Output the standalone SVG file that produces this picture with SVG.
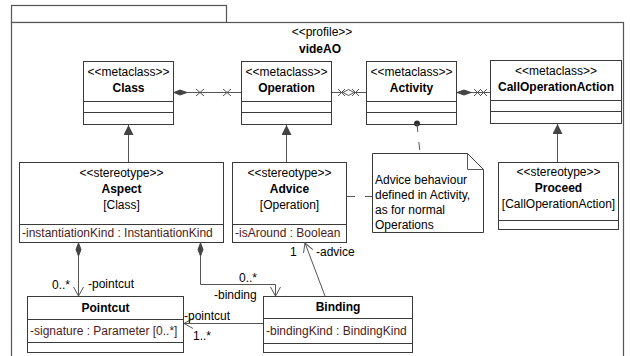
<svg xmlns="http://www.w3.org/2000/svg" width="630" height="356" viewBox="0 0 630 356">
  <style>
    .box { fill: #ffffff; stroke: #3a3a3a; stroke-width: 1; }
    .sep { stroke: #3a3a3a; stroke-width: 1; }
    .pkg { fill: #ffffff; stroke: #555555; stroke-width: 1.2; }
    .t { font-family: "Liberation Sans", Arial, sans-serif; font-size: 12px; fill: #000000; }
    .c { text-anchor: middle; }
    .b { font-weight: bold; }
    .attr { fill: #4a1c1c; }
    .ln { fill: none; stroke: #555555; stroke-width: 1; }
    .dash { fill: none; stroke: #555555; stroke-width: 1; stroke-dasharray: 8 10; }
    .fillh { fill: #444444; stroke: #444444; stroke-width: 1; }
    .hollow { fill: #ffffff; stroke: #555555; stroke-width: 1; }
  </style>
  <defs>
    <marker id="gen" markerWidth="12" markerHeight="12" refX="10" refY="5" orient="auto" markerUnits="userSpaceOnUse">
      <path d="M0,0 L10,5 L0,10 Z" fill="#444444"/>
    </marker>
    <marker id="open" markerWidth="12" markerHeight="12" refX="9" refY="5" orient="auto" markerUnits="userSpaceOnUse">
      <path d="M0,0 L9,5 L0,10" fill="none" stroke="#555555" stroke-width="1"/>
    </marker>
  </defs>

  <!-- profile package frame -->
  <g id="package">
    <rect class="pkg" x="11.5" y="5.5" width="215" height="17"/>
    <rect class="pkg" x="11.5" y="22.5" width="612" height="340"/>
    <text class="t c" x="322" y="36">&lt;&lt;profile&gt;&gt;</text>
    <text class="t c b" x="320" y="53">videAO</text>
  </g>

  <!-- metaclasses -->
  <g id="class">
    <rect class="box" x="83.5" y="61.5" width="90" height="63"/>
    <line class="sep" x1="83.5" y1="101.5" x2="173.5" y2="101.5"/>
    <line class="sep" x1="83.5" y1="112.5" x2="173.5" y2="112.5"/>
    <text class="t c" x="128.5" y="76">&lt;&lt;metaclass&gt;&gt;</text>
    <text class="t c b" x="128.5" y="92">Class</text>
  </g>
  <g id="operation">
    <rect class="box" x="241.5" y="61.5" width="90" height="63"/>
    <line class="sep" x1="241.5" y1="101.5" x2="331.5" y2="101.5"/>
    <line class="sep" x1="241.5" y1="112.5" x2="331.5" y2="112.5"/>
    <text class="t c" x="286.5" y="76">&lt;&lt;metaclass&gt;&gt;</text>
    <text class="t c b" x="286.5" y="92">Operation</text>
  </g>
  <g id="activity">
    <rect class="box" x="366.5" y="61.5" width="90" height="63"/>
    <line class="sep" x1="366.5" y1="101.5" x2="456.5" y2="101.5"/>
    <line class="sep" x1="366.5" y1="112.5" x2="456.5" y2="112.5"/>
    <text class="t c" x="411.5" y="76">&lt;&lt;metaclass&gt;&gt;</text>
    <text class="t c b" x="411.5" y="92">Activity</text>
  </g>
  <g id="calloperationaction">
    <rect class="box" x="490.5" y="60.5" width="131" height="63"/>
    <line class="sep" x1="490.5" y1="100.5" x2="621.5" y2="100.5"/>
    <line class="sep" x1="490.5" y1="111.5" x2="621.5" y2="111.5"/>
    <text class="t c" x="556" y="75">&lt;&lt;metaclass&gt;&gt;</text>
    <text class="t c b" x="556" y="91">CallOperationAction</text>
  </g>

  <!-- stereotypes -->
  <g id="aspect">
    <rect class="box" x="19.5" y="162.5" width="204" height="80"/>
    <line class="sep" x1="19.5" y1="224.5" x2="223.5" y2="224.5"/>
    <text class="t c" x="121.5" y="177">&lt;&lt;stereotype&gt;&gt;</text>
    <text class="t c b" x="121.5" y="193">Aspect</text>
    <text class="t c" x="121.5" y="209">[Class]</text>
    <text class="t attr" x="22" y="237">-instantiationKind : InstantiationKind</text>
  </g>
  <g id="advice">
    <rect class="box" x="232.5" y="162.5" width="114" height="80"/>
    <line class="sep" x1="232.5" y1="224.5" x2="346.5" y2="224.5"/>
    <text class="t c" x="289.5" y="177">&lt;&lt;stereotype&gt;&gt;</text>
    <text class="t c b" x="289.5" y="193">Advice</text>
    <text class="t c" x="289.5" y="209">[Operation]</text>
    <text class="t attr" x="235" y="237">-isAround : Boolean</text>
  </g>
  <g id="proceed">
    <rect class="box" x="498.5" y="162.5" width="120" height="67"/>
    <line class="sep" x1="498.5" y1="220.5" x2="618.5" y2="220.5"/>
    <text class="t c" x="558.5" y="176">&lt;&lt;stereotype&gt;&gt;</text>
    <text class="t c b" x="558.5" y="192">Proceed</text>
    <text class="t c" x="558.5" y="208">[CallOperationAction]</text>
  </g>

  <!-- classes -->
  <g id="pointcut">
    <rect class="box" x="27.5" y="296.5" width="156" height="56"/>
    <line class="sep" x1="27.5" y1="319.5" x2="183.5" y2="319.5"/>
    <line class="sep" x1="27.5" y1="342.5" x2="183.5" y2="342.5"/>
    <text class="t c b" x="105.5" y="312">Pointcut</text>
    <text class="t attr" x="30" y="335">-signature : Parameter [0..*]</text>
  </g>
  <g id="binding">
    <rect class="box" x="263.5" y="296.5" width="149" height="56"/>
    <line class="sep" x1="263.5" y1="318.5" x2="412.5" y2="318.5"/>
    <line class="sep" x1="263.5" y1="343.5" x2="412.5" y2="343.5"/>
    <text class="t c b" x="338" y="311">Binding</text>
    <text class="t attr" x="266" y="335">-bindingKind : BindingKind</text>
  </g>

  <!-- note -->
  <g id="note">
    <path class="box" d="M372.5,153.5 H467.5 L483.5,169.5 V232.5 H372.5 Z"/>
    <path class="ln" d="M467.5,153.5 V169.5 H483.5"/>
    <text class="t" x="375" y="184">Advice behaviour</text>
    <text class="t" x="375" y="199">defined in Activity,</text>
    <text class="t" x="375" y="214">as for normal</text>
    <text class="t" x="375" y="229">Operations</text>
  </g>

  <g id="connectors">
    <!-- extensions -->
    <line class="ln" x1="128.5" y1="162" x2="128.5" y2="125" marker-end="url(#gen)"/>
    <line class="ln" x1="286.5" y1="162" x2="286.5" y2="125" marker-end="url(#gen)"/>
    <line class="ln" x1="557.5" y1="162" x2="557.5" y2="124" marker-end="url(#gen)"/>

    <!-- Class - Operation -->
    <line class="ln" x1="174" y1="92.5" x2="241" y2="92.5"/>
    <path class="fillh" d="M174,92.5 L180,90 L187,92.5 L180,95 Z"/>
    <path class="ln" d="M196,89 L204,96 M196,96 L204,89"/>
    <path class="ln" d="M223,89 L231,96 M223,96 L231,89"/>

    <!-- Operation - Activity -->
    <line class="ln" x1="332" y1="92.5" x2="366" y2="92.5"/>
    <path class="ln" d="M338,89 L345,96 M338,96 L345,89"/>
    <path class="hollow" d="M343,92.5 L348.5,89.5 L354,92.5 L348.5,95.5 Z"/>
    <path class="ln" d="M352,89 L359,96 M352,96 L359,89"/>

    <!-- Activity - CallOperationAction -->
    <line class="ln" x1="457" y1="92.5" x2="490" y2="92.5"/>
    <path class="fillh" d="M457,92.5 L464,90 L471,92.5 L464,95 Z"/>
    <path class="ln" d="M474,89 L481,96 M474,96 L481,89"/>
    <path class="ln" d="M480,89 L487,96 M480,96 L487,89"/>

    <!-- note anchors -->
    <circle cx="417" cy="123.5" r="3" fill="#333333"/>
    <line class="dash" x1="417" y1="124" x2="420" y2="153" stroke-dasharray="7 11"/>
    <line class="dash" x1="347" y1="196.5" x2="372" y2="196.5" stroke-dasharray="10 8"/>

    <!-- Aspect -> Pointcut -->
    <path class="fillh" d="M78.5,243 L81,249.5 L78.5,256 L76,249.5 Z"/>
    <line class="ln" x1="78.5" y1="256" x2="78.5" y2="296" marker-end="url(#open)"/>
    <text class="t" x="52" y="289">0..*</text>
    <text class="t" x="88" y="288">-pointcut</text>

    <!-- Aspect -> Binding -->
    <path class="fillh" d="M200.5,243 L203,249.5 L200.5,256 L198,249.5 Z"/>
    <path class="ln" d="M200.5,256 V284.5 H275.5 V296" marker-end="url(#open)"/>
    <text class="t" x="239" y="282">0..*</text>
    <text class="t" x="214" y="299">-binding</text>

    <!-- Binding -> Pointcut -->
    <line class="ln" x1="263" y1="323.5" x2="184" y2="323.5" marker-end="url(#open)"/>
    <text class="t" x="184" y="320">-pointcut</text>
    <text class="t" x="193" y="340">1..*</text>

    <!-- Binding -> Advice -->
    <line class="ln" x1="325" y1="296" x2="305" y2="243" marker-end="url(#open)"/>
    <text class="t" x="290" y="256">1</text>
    <text class="t" x="316" y="256">-advice</text>
  </g>
</svg>
